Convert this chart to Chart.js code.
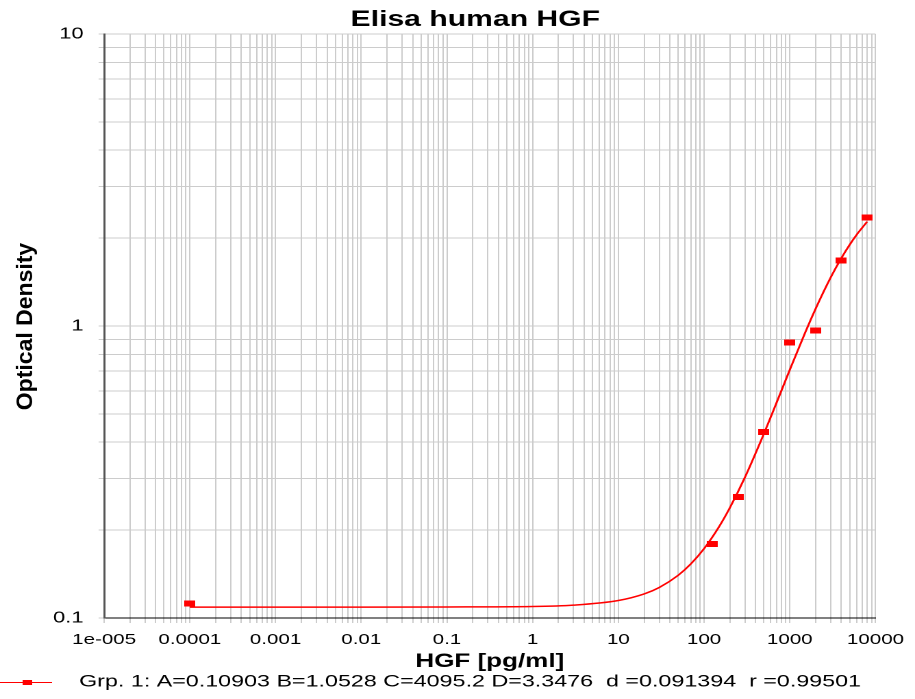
<!DOCTYPE html>
<html>
<head>
<meta charset="utf-8">
<script src="https://cdn.jsdelivr.net/npm/chart.js@4.4.0/dist/chart.umd.min.js"></script>
<style>
  html, body { margin: 0; padding: 0; background: #fff; overflow: hidden; }
  /* the original picture is stretched sideways, so the chart is too */
  #wrap { width: 668px; height: 699px; transform: scaleX(1.36976); transform-origin: 0 0; }
</style>
</head>
<body>
<div id="wrap"><canvas id="elisaChart" width="668" height="699"></canvas></div>
<script>
// Datos
var chartTitle = "Elisa human HGF";
var xTitle = "HGF [pg/ml]";
var yTitle = "Optical Density";
var legendText = "Grp. 1: A=0.10903 B=1.0528 C=4095.2 D=3.3476  d =0.091394  r =0.99501";

// puntos medidos (estandares)
var stdConc = [0.0001, 125, 250, 500, 1000, 2000, 4000, 8000];
var stdOD = [0.112, 0.179, 0.260, 0.434, 0.879, 0.967, 1.679, 2.35];

// curva ajustada, leida punto a punto
var fitConc = [0.0001, 0.001, 0.01, 0.1, 1, 3, 10, 20, 30, 50, 70, 100, 150, 200, 300, 500, 700, 1000, 1500, 2000, 3000, 4000, 5000, 6000, 8000];
var fitOD = [0.1090, 0.1090, 0.1090, 0.1091, 0.1095, 0.1107, 0.1148, 0.1209, 0.1272, 0.1401, 0.1531, 0.1728, 0.2057, 0.2385, 0.3033, 0.4281, 0.5454, 0.7074, 0.9440, 1.1449, 1.4654, 1.7083, 1.8979, 2.0496, 2.2766];

// marcas de los ejes
var xMajorTicks = [1e-5, 1e-4, 1e-3, 1e-2, 0.1, 1, 10, 100, 1000, 10000];
var xTickLabels = ["1e-005", "0.0001", "0.001", "0.01", "0.1", "1", "10", "100", "1000", "10000"];
var yMajorTicks = [0.1, 1, 10];
var yTickLabels = ["0.1", "1", "10"];
var minorSteps = [1, 2, 3, 4, 5, 6, 7, 8, 9];

var FONT = '"Liberation Sans", Arial, sans-serif';
var STRETCH = 1.36976;
Chart.defaults.font.family = FONT;

// lineas de la rejilla: 1..9 en cada decada
function gridValues(majors) {
  var out = [];
  for (var i = 0; i < majors.length - 1; i++) {
    minorSteps.forEach(function (k) {
      out.push(Number((majors[i] * k).toPrecision(6)));
    });
  }
  out.push(majors[majors.length - 1]);
  return out;
}

function labelFor(value, majors, labels) {
  for (var i = 0; i < majors.length; i++) {
    if (Math.abs(Math.log10(value) - Math.log10(majors[i])) < 1e-6) return labels[i];
  }
  return "";
}

// marcador rectangular rojo
var marker = document.createElement("canvas");
marker.width = 8;
marker.height = 6;
var mctx = marker.getContext("2d");
mctx.fillStyle = "#ff0000";
mctx.fillRect(0, 0, 8, 6);

// texto que no dibuja la libreria: titulo, titulo Y y leyenda
var extraText = {
  id: "extraText",
  afterDraw: function (chart) {
    var ctx = chart.ctx;
    ctx.save();
    ctx.fillStyle = "#000";
    ctx.textBaseline = "middle";

    ctx.textAlign = "center";
    ctx.font = "bold 22px " + FONT;
    ctx.fillText(chartTitle, 347, 20);

    ctx.save();
    ctx.translate(19, 326.5);
    ctx.scale(1 / STRETCH, 1);
    ctx.rotate(-Math.PI / 2);
    ctx.font = "bold 23px " + FONT;
    ctx.fillText(yTitle, 0, 0);
    ctx.restore();

    // leyenda
    ctx.strokeStyle = "#ff0000";
    ctx.lineWidth = 1;
    ctx.beginPath();
    ctx.moveTo(0, 682.5);
    ctx.lineTo(38, 682.5);
    ctx.stroke();
    ctx.fillStyle = "#ff0000";
    ctx.fillRect(16.5, 680, 7, 5);

    ctx.fillStyle = "#000";
    ctx.textAlign = "left";
    ctx.font = "17px " + FONT;
    ctx.fillText(legendText, 57.7, 682);
    ctx.restore();
  }
};

var elisaCanvas = document.getElementById("elisaChart").getContext("2d");

var elisaChart = new Chart(elisaCanvas, {
  type: "scatter",
  data: {
    datasets: [
      {
        label: "ajuste",
        data: fitConc.map(function (x, i) { return { x: x, y: fitOD[i] }; }),
        showLine: true,
        borderColor: "#ff0000",
        borderWidth: 1.5,
        pointRadius: 0,
        cubicInterpolationMode: "monotone",
        order: 2
      },
      {
        label: "Grp. 1",
        data: stdConc.map(function (x, i) { return { x: x, y: stdOD[i] }; }),
        showLine: false,
        pointStyle: marker,
        backgroundColor: "#ff0000",
        borderColor: "#ff0000",
        order: 1
      }
    ]
  },
  options: {
    responsive: false,
    animation: false,
    devicePixelRatio: 2,
    layout: { padding: { top: 34, right: 26, bottom: 26, left: 0 } },
    plugins: {
      legend: { display: false },
      tooltip: { enabled: false },
      title: { display: false }
    },
    scales: {
      x: {
        type: "logarithmic",
        min: 1e-5,
        max: 1e4,
        afterBuildTicks: function (scale) {
          scale.ticks = gridValues(xMajorTicks).map(function (v) { return { value: v }; });
        },
        afterFit: function (scale) { scale.height = 55; },
        ticks: {
          autoSkip: false,
          maxRotation: 0,
          padding: 8,
          color: "#000",
          font: { size: 15 },
          callback: function (value) { return labelFor(value, xMajorTicks, xTickLabels); }
        },
        grid: { color: "#cccccc", lineWidth: 1, tickLength: 5, tickColor: "#cccccc" },
        border: { color: "#000", width: 1 },
        title: {
          display: true,
          text: xTitle,
          color: "#000",
          font: { size: 19, weight: "bold" },
          padding: 0
        }
      },
      y: {
        type: "logarithmic",
        min: 0.1,
        max: 10,
        afterBuildTicks: function (scale) {
          scale.ticks = gridValues(yMajorTicks).map(function (v) { return { value: v }; });
        },
        afterFit: function (scale) { scale.width = 76; },
        ticks: {
          autoSkip: false,
          padding: 11,
          color: "#000",
          font: { size: 16 },
          callback: function (value) { return labelFor(value, yMajorTicks, yTickLabels); }
        },
        grid: { color: "#cccccc", lineWidth: 1, tickLength: 4, tickColor: "#cccccc" },
        border: { color: "#555", width: 1.5 }
      }
    }
  },
  plugins: [extraText]
});
</script>
</body>
</html>
